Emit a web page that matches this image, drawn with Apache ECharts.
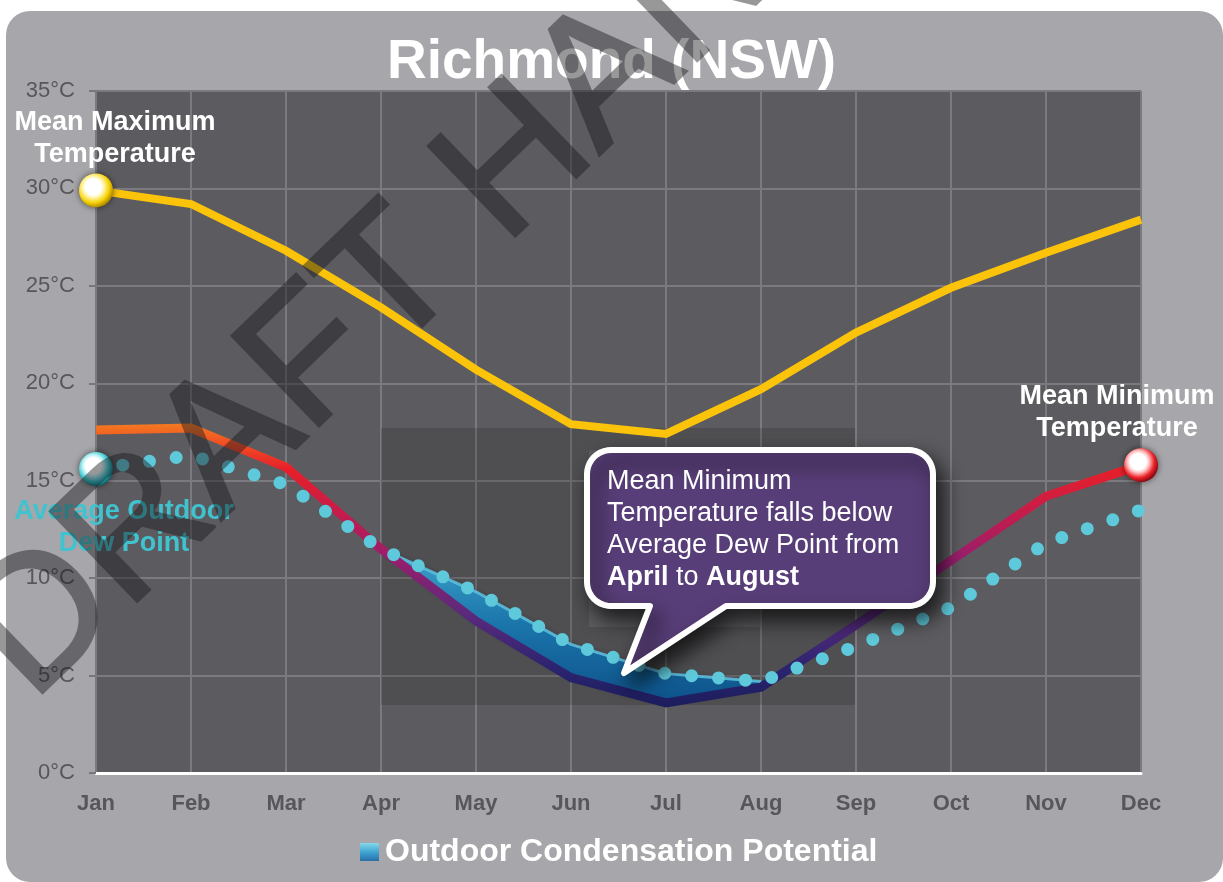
<!DOCTYPE html>
<html>
<head>
<meta charset="utf-8">
<title>Richmond (NSW)</title>
<script src="https://cdn.jsdelivr.net/npm/echarts/dist/echarts.min.js"></script>
<style>
  html, body { margin: 0; padding: 0; background: #ffffff; }
  #panel { position: absolute; left: 6px; top: 11px; width: 1217px; height: 871px;
           background: #a7a7ab; border-radius: 24px; }
  #chart, #mark { position: absolute; left: 0; top: 0; width: 1223px; height: 882px; }
  #mark { opacity: 0.45; pointer-events: none; }
</style>
</head>
<body>
<div id="panel"></div>
<div id="chart"></div>
<div id="mark"></div>
<script>
// Monthly climate averages, °C
const months = ['Jan', 'Feb', 'Mar', 'Apr', 'May', 'Jun', 'Jul', 'Aug', 'Sep', 'Oct', 'Nov', 'Dec'];
const meanMax = [29.9, 29.2, 26.8, 23.9, 20.7, 17.9, 17.4, 19.7, 22.6, 24.9, 26.7, 28.4];
const meanMin = [17.6, 17.7, 15.7, 11.5, 7.8, 4.9, 3.6, 4.4, 7.6, 10.9, 14.2, 15.8];
const dewPoint = [15.6, 16.3, 14.8, 11.5, 9.3, 6.6, 5.1, 4.7, 6.5, 8.5, 11.8, 13.5];
const condensationMonths = ['Apr', 'May', 'Jun', 'Jul', 'Aug'];
const yTick = { min: 0, max: 35, step: 5 };

const FONT = '"Liberation Sans", Arial, Helvetica, sans-serif';
const G = echarts.graphic;

const inCond = (i) => condensationMonths.indexOf(months[i]) >= 0;
// lower edge of the condensation band (min temp) and its thickness (dew point above min)
const condBase = months.map((m, i) => inCond(i) ? meanMin[i] : null);
const condBand = months.map((m, i) => inCond(i) ? Math.max(0, +(dewPoint[i] - meanMin[i]).toFixed(2)) : null);

function glossy(mid, edge, dark) {
  return new G.RadialGradient(0.42, 0.4, 0.62, [
    { offset: 0, color: '#ffffff' },
    { offset: 0.38, color: '#ffffff' },
    { offset: 0.52, color: mid },
    { offset: 0.76, color: edge },
    { offset: 1, color: dark }
  ]);
}

function endLabel(text, color, position, offset) {
  return {
    show: true, position: position, distance: 5, offset: offset,
    formatter: text, color: color, fontFamily: FONT, fontWeight: 'bold',
    fontSize: 27, lineHeight: 32, align: 'center'
  };
}

// Min-temperature stroke colour follows its value: warm at the top, navy at the bottom
const minHi = Math.max(...meanMin), minLo = Math.min(...meanMin);
const tOf = (v) => Math.min(1, Math.max(0, (minHi - v) / (minHi - minLo)));
const minGradient = new G.LinearGradient(0, 0, 0, 1, [
  { offset: tOf(17.7), color: '#f47a20' },
  { offset: tOf(16.6), color: '#f04a24' },
  { offset: tOf(15.4), color: '#e61f2a' },
  { offset: tOf(13.2), color: '#c41c4c' },
  { offset: tOf(11.0), color: '#981e6c' },
  { offset: tOf(8.2), color: '#5a2a7c' },
  { offset: tOf(5.6), color: '#2c2470' },
  { offset: tOf(3.6), color: '#1c1d5c' }
]);

const condFill = new G.LinearGradient(0, 0, 0, 1, [
  { offset: 0, color: '#3fa3cc' },
  { offset: 0.5, color: '#1a74aa' },
  { offset: 1, color: '#0e528a' }
]);
const legendFill = new G.LinearGradient(0, 0, 0, 1, [
  { offset: 0, color: '#86d8ea' },
  { offset: 0.55, color: '#3b9fcf' },
  { offset: 1, color: '#2a6fa8' }
]);

// Speech-bubble outline: rounded box with a pointer on its lower edge
function bubblePoints(x0, y0, x1, y1, r, tail) {
  const pts = [];
  const arc = (cx, cy, a0, a1) => {
    for (let k = 0; k <= 10; k++) {
      const a = (a0 + (a1 - a0) * k / 10) * Math.PI / 180;
      pts.push([cx + r * Math.cos(a), cy + r * Math.sin(a)]);
    }
  };
  arc(x0 + r, y0 + r, 180, 270);
  arc(x1 - r, y0 + r, 270, 360);
  arc(x1 - r, y1 - r, 0, 90);
  pts.push([tail.right, y1], [tail.tipX, tail.tipY], [tail.left, y1]);
  arc(x0 + r, y1 - r, 90, 180);
  return pts;
}

const shade = 'rgba(0,0,0,0.14)';
const chart = echarts.init(document.getElementById('chart'), null, { renderer: 'canvas' });

chart.setOption({
  animation: false,
  backgroundColor: 'transparent',
  title: {
    text: 'Richmond (NSW)', left: 'center', top: 35, padding: 0,
    textStyle: { color: '#ffffff', fontFamily: FONT, fontWeight: 'bold', fontSize: 55 }
  },
  legend: {
    data: [{ name: 'Outdoor Condensation Potential', itemStyle: { color: legendFill, borderWidth: 0 } }],
    left: 360, top: 836, padding: 0, icon: 'rect', itemWidth: 19, itemHeight: 18,
    textStyle: { color: '#ffffff', fontFamily: FONT, fontWeight: 'bold', fontSize: 32, padding: [0, 0, 0, 1] }
  },
  grid: {
    left: 96, right: 82, top: 91, bottom: 109,
    show: true, backgroundColor: '#5c5c60', borderWidth: 0
  },
  xAxis: {
    type: 'category', data: months, boundaryGap: false,
    axisLine: { lineStyle: { color: '#ffffff', width: 3 } },
    axisTick: { show: false },
    axisLabel: { color: '#57575b', fontFamily: FONT, fontWeight: 'bold', fontSize: 22, margin: 20 },
    splitLine: { show: true, lineStyle: { color: '#7b7b7f', width: 2 } }
  },
  yAxis: {
    type: 'value', min: yTick.min, max: yTick.max, interval: yTick.step,
    axisLine: { show: false },
    axisTick: { show: true, length: 7, lineStyle: { color: '#78787c', width: 2 } },
    axisLabel: { formatter: '{value}°C', color: '#57575b', fontFamily: FONT, fontSize: 22, margin: 21 },
    splitLine: { show: true, lineStyle: { color: '#7b7b7f', width: 2 } }
  },
  series: [
    {
      name: 'base', type: 'line', stack: 'cond', data: condBase,
      symbol: 'none', lineStyle: { width: 0, opacity: 0 }, silent: true, z: 2
    },
    {
      name: 'Outdoor Condensation Potential', type: 'line', stack: 'cond', data: condBand,
      symbol: 'none', color: '#2b86bd',
      lineStyle: { width: 3, color: '#5cbcdb', opacity: 0.9 },
      areaStyle: { color: condFill, opacity: 1, shadowBlur: 6, shadowColor: 'rgba(0,0,0,0.35)' },
      silent: true, z: 2
    },
    {
      name: 'Mean Maximum Temperature', type: 'line', showSymbol: true, symbol: 'none', clip: false,
      data: meanMax.map((v, i) => i === 0 ? {
        value: v, symbol: 'circle', symbolSize: 34,
        itemStyle: { color: glossy('#fff3a0', '#f5d000', '#a98000'), shadowBlur: 6, shadowColor: 'rgba(0,0,0,0.55)' },
        label: endLabel('Mean Maximum\nTemperature', '#ffffff', 'top', [19, 2])
      } : v),
      lineStyle: { color: '#fbc40a', width: 8, cap: 'butt', join: 'miter' },
      silent: true, z: 3
    },
    {
      name: 'Mean Minimum Temperature', type: 'line', showSymbol: true, symbol: 'none', clip: false,
      data: meanMin.map((v, i) => i === months.length - 1 ? {
        value: v, symbol: 'circle', symbolSize: 34,
        itemStyle: { color: glossy('#ffc0c0', '#ec2229', '#7e0710'), shadowBlur: 6, shadowColor: 'rgba(0,0,0,0.55)' },
        label: endLabel('Mean Minimum\nTemperature', '#ffffff', 'top', [-24, 1])
      } : v),
      lineStyle: { color: minGradient, width: 9, cap: 'butt', join: 'miter' },
      silent: true, z: 4
    },
    {
      name: 'Average Outdoor Dew Point', type: 'line', showSymbol: true, symbol: 'none', clip: false,
      data: dewPoint.map((v, i) => i === 0 ? {
        value: v, symbol: 'circle', symbolSize: 34,
        itemStyle: { color: glossy('#b4f2f6', '#2ebfc8', '#08636b'), shadowBlur: 6, shadowColor: 'rgba(0,0,0,0.55)' },
        label: endLabel('Average Outdoor\nDew Point', '#40c3cf', 'bottom', [28, 5])
      } : v),
      lineStyle: { color: '#5ec9da', width: 13, type: [0, 27], cap: 'round' },
      silent: true, z: 5
    }
  ],
  graphic: [
    // darker backdrop behind the April–September stretch
    { type: 'rect', z: 1, silent: true, shape: { x: 381, y: 428, width: 208, height: 277 }, style: { fill: shade } },
    { type: 'rect', z: 1, silent: true, shape: { x: 760, y: 428, width: 95, height: 277 }, style: { fill: shade } },
    { type: 'rect', z: 1, silent: true, shape: { x: 589, y: 627, width: 171, height: 78 }, style: { fill: shade } },
    { type: 'rect', z: 1, silent: true, shape: { x: 589, y: 428, width: 171, height: 22 }, style: { fill: shade } },
    // callout bubble
    {
      type: 'polygon', z: 50, silent: true,
      shape: { points: bubblePoints(587, 450, 933, 606, 24, { left: 650, right: 726, tipX: 624, tipY: 673 }) },
      style: {
        fill: '#583e78', stroke: '#ffffff', lineWidth: 6, lineJoin: 'round',
        shadowBlur: 20, shadowOffsetX: 7, shadowOffsetY: 11, shadowColor: 'rgba(0,0,0,0.7)'
      }
    },
    {
      type: 'text', z: 51, silent: true, x: 607, y: 466,
      style: {
        text: 'Mean Minimum\nTemperature falls below\nAverage Dew Point from\n{b|April} to {b|August}',
        fill: '#ffffff', fontFamily: FONT, fontSize: 27, lineHeight: 32,
        align: 'left', verticalAlign: 'top',
        rich: { b: { fontFamily: FONT, fontSize: 27, fontWeight: 'bold', fill: '#ffffff', lineHeight: 32 } }
      }
    }
  ]
});

// Watermark on its own translucent layer so fill and outline blend as one shape
const mark = echarts.init(document.getElementById('mark'), null, { renderer: 'canvas' });
mark.setOption({
  animation: false,
  backgroundColor: 'transparent',
  graphic: [{
    type: 'text', silent: true, x: -3, y: 667, rotation: 44 * Math.PI / 180,
    style: {
      text: 'DRAFT HANDOUT', fill: '#1a1a1e', stroke: '#1a1a1e', lineWidth: 3,
      fontFamily: FONT, fontSize: 182, align: 'left', verticalAlign: 'middle'
    }
  }]
});
</script>
</body>
</html>
